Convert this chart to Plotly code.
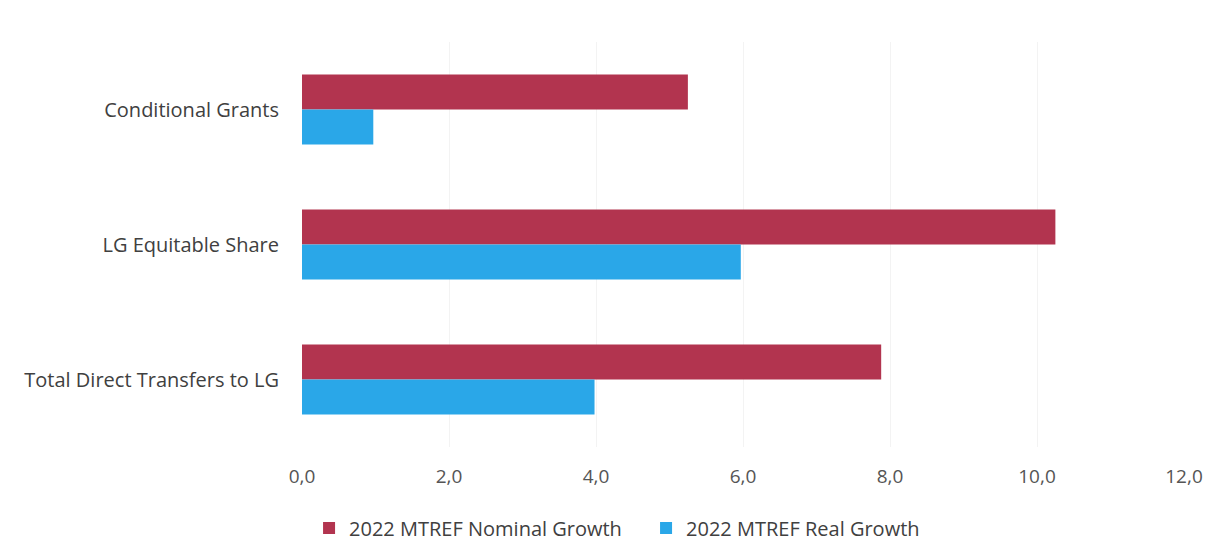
import plotly.graph_objects as go

categories = ["Conditional Grants", "LG Equitable Share", "Total Direct Transfers to LG"]
nominal_growth = [5.25, 10.25, 7.88]
real_growth = [0.97, 5.97, 3.98]
series_names = ["2022 MTREF Nominal Growth", "2022 MTREF Real Growth"]
tick_values = [0, 2, 4, 6, 8, 10, 12]
tick_labels = ["0,0", "2,0", "4,0", "6,0", "8,0", "10,0", "12,0"]

fig = go.Figure()
fig.add_trace(go.Bar(y=categories, x=nominal_growth, orientation="h", name=series_names[0],
                     marker=dict(color="#B2344F", line=dict(width=0))))
fig.add_trace(go.Bar(y=categories, x=real_growth, orientation="h", name=series_names[1],
                     marker=dict(color="#2AA7E8", line=dict(width=0))))

FONT = "Open Sans, sans-serif"
fig.update_layout(
    width=1219, height=557,
    margin=dict(l=294, r=43, t=34, b=118),
    paper_bgcolor="white", plot_bgcolor="white",
    barmode="group", bargap=0.48, bargroupgap=0,
    font=dict(family=FONT, size=20, color="#404040"),
    xaxis=dict(range=[0, 12], tickvals=tick_values, ticktext=tick_labels,
               showgrid=True, gridcolor="#F3F3F3", gridwidth=1, zeroline=False,
               showline=False, ticks="", ticklabelstandoff=16,
               tickfont=dict(family=FONT, size=19, color="#555555")),
    yaxis=dict(autorange="reversed", showgrid=False, showline=False, ticks="",
               ticklabelstandoff=22, tickfont=dict(family=FONT, size=20, color="#404040")),
    legend=dict(orientation="h", x=0.008, xanchor="left", y=-0.2, yanchor="middle",
                font=dict(family=FONT, size=20, color="#404040"), traceorder="normal",
                itemwidth=30, entrywidth=292, entrywidthmode="pixels"),
    showlegend=True,
)

fig.write_html("out.html")
